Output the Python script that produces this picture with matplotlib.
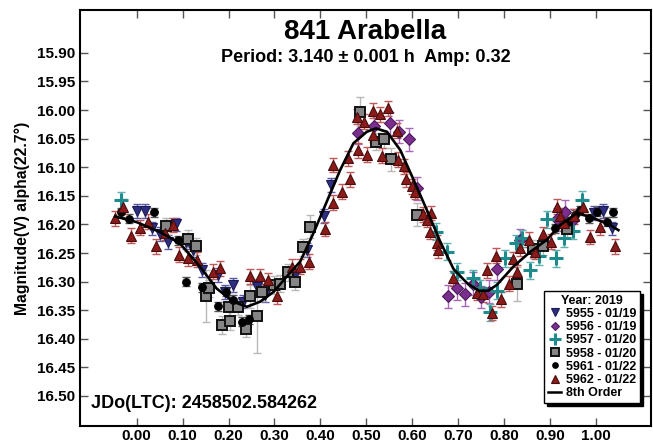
import numpy as np
import matplotlib
matplotlib.use("Agg")
import matplotlib.pyplot as plt
from matplotlib.lines import Line2D

plt.rcParams['font.family'] = ['Liberation Sans', 'DejaVu Sans']
plt.rcParams['font.weight'] = 'bold'

# 5955 - 01/19
ph_5955 = [0.001, 0.018, 0.033, 0.051, 0.069, 0.086, 0.107, 0.123, 0.142, 0.176, 0.192, 0.210,
           0.232, 0.263, 0.280, 0.345, 0.370, 0.407, 0.423, 0.995, 1.015, 1.035]
mag_5955 = [16.177, 16.176, 16.207, 16.217, 16.231, 16.200, 16.231, 16.245, 16.280, 16.288, 16.318, 16.306,
            16.335, 16.309, 16.323, 16.288, 16.245, 16.185, 16.131, 16.180, 16.176, 16.207]
err_5955 = 0.012

# 5956 - 01/19
ph_5956 = [0.483, 0.517, 0.552, 0.572, 0.592, 0.610, 0.679, 0.697, 0.715, 0.732, 0.749, 0.768,
           0.784, 0.835, 0.916, 0.933, 0.951]
mag_5956 = [16.040, 16.028, 16.023, 16.038, 16.051, 16.137, 16.326, 16.312, 16.322, 16.304, 16.327, 16.318,
            16.278, 16.228, 16.191, 16.178, 16.193]
err_5956 = 0.02

# 5957 - 01/20
ph_5957 = [-0.035, 0.652, 0.676, 0.697, 0.732, 0.748, 0.770, 0.784, 0.802, 0.826, 0.839, 0.857,
           0.877, 0.893, 0.914, 0.931, 0.951, 0.970]
mag_5957 = [16.158, 16.213, 16.248, 16.283, 16.294, 16.312, 16.354, 16.316, 16.259, 16.233, 16.224, 16.280,
            16.256, 16.191, 16.259, 16.224, 16.211, 16.157]
err_5957 = 0.015

# 5958 - 01/20
ph_5958 = [0.064, 0.112, 0.129, 0.151, 0.158, 0.185, 0.203, 0.200, 0.221, 0.238, 0.247, 0.263,
           0.272, 0.298, 0.312, 0.330, 0.345, 0.363, 0.378, 0.487, 0.521, 0.539, 0.553, 0.611,
           0.828, 0.864, 0.885, 0.937]
mag_5958 = [16.203, 16.225, 16.238, 16.325, 16.312, 16.376, 16.369, 16.344, 16.344, 16.382, 16.326, 16.360,
            16.319, 16.306, 16.304, 16.284, 16.300, 16.240, 16.204, 16.003, 16.055, 16.051, 16.086, 16.183,
            16.304, 16.243, 16.238, 16.208]
err_5958 = [0.015, 0.015, 0.015, 0.045, 0.015, 0.015, 0.015, 0.02, 0.015, 0.015, 0.02, 0.065,
            0.015, 0.015, 0.015, 0.015, 0.015, 0.015, 0.02, 0.025, 0.015, 0.015, 0.02, 0.02,
            0.03, 0.015, 0.015, 0.015]

# 5961 - 01/22
ph_5961 = [-0.035, -0.017, 0.038, 0.089, 0.107, 0.142, 0.176, 0.195, 0.210, 0.229, 0.245,
           0.911, 0.940, 0.954, 0.966, 0.984, 1.002, 1.024, 1.037]
mag_5961 = [16.179, 16.190, 16.179, 16.228, 16.300, 16.310, 16.343, 16.318, 16.332, 16.370, 16.366,
            16.207, 16.195, 16.183, 16.175, 16.189, 16.178, 16.195, 16.179]
err_5961 = 0.008

# 5962 - 01/22
ph_5962 = [-0.047, -0.029, -0.013, 0.007, 0.025, 0.042, 0.062, 0.080, 0.093, 0.112, 0.131, 0.166,
           0.181, 0.247, 0.269, 0.287, 0.305, 0.339, 0.356, 0.376, 0.410, 0.427, 0.428, 0.447,
           0.461, 0.465, 0.479, 0.483, 0.496, 0.501, 0.514, 0.515, 0.530, 0.534, 0.548, 0.566,
           0.570, 0.582, 0.587, 0.599, 0.606, 0.624, 0.633, 0.641, 0.639, 0.654, 0.657, 0.688,
           0.742, 0.755, 0.762, 0.773, 0.783, 0.793, 0.810, 0.819, 0.829, 0.835, 0.855, 0.868,
           0.885, 0.902, 0.916, 0.922, 0.931, 0.952, 0.972, 0.988, 1.009, 1.042]
mag_5962 = [16.189, 16.169, 16.220, 16.206, 16.195, 16.238, 16.215, 16.201, 16.253, 16.259, 16.262, 16.283,
            16.277, 16.291, 16.291, 16.298, 16.326, 16.274, 16.274, 16.265, 16.208, 16.096, 16.162, 16.143,
            16.084, 16.121, 16.012, 16.070, 16.020, 16.078, 16.001, 16.043, 16.007, 16.080, 15.997, 16.036,
            16.087, 16.098, 16.121, 16.133, 16.143, 16.182, 16.192, 16.180, 16.213, 16.232, 16.245, 16.294,
            16.320, 16.322, 16.280, 16.355, 16.255, 16.331, 16.304, 16.261, 16.284, 16.242, 16.227, 16.248,
            16.217, 16.230, 16.169, 16.185, 16.198, 16.186, 16.169, 16.222, 16.205, 16.238]
err_5962 = 0.013

# 8th order fit curve
fit_ph = [-0.047, 0.0, 0.05, 0.094, 0.138, 0.174, 0.21, 0.24, 0.269, 0.298, 0.327, 0.356, 0.385,
          0.414, 0.443, 0.472, 0.501, 0.521, 0.545, 0.574, 0.603, 0.632, 0.661, 0.69, 0.72, 0.745,
          0.765, 0.784, 0.82, 0.857, 0.893, 0.922, 0.959, 0.995, 1.031, 1.049]
fit_mag = [16.186, 16.196, 16.213, 16.233, 16.274, 16.312, 16.335, 16.344, 16.335, 16.318, 16.291, 16.265, 16.215,
           16.160, 16.105, 16.058, 16.038, 16.032, 16.038, 16.070, 16.122, 16.175, 16.230, 16.278, 16.303, 16.316,
           16.316, 16.306, 16.274, 16.248, 16.227, 16.201, 16.180, 16.189, 16.201, 16.210]

x_ticks = [0.0, 0.1, 0.2, 0.3, 0.4, 0.5, 0.6, 0.7, 0.8, 0.9, 1.0]
y_ticks = [15.90, 15.95, 16.00, 16.05, 16.10, 16.15, 16.20, 16.25, 16.30, 16.35, 16.40, 16.45, 16.50]

series = [
    ("5955 - 01/19", ph_5955, mag_5955, err_5955, 'v', '#2E2E80', '#1a1a55', '#5a5aa5', 7.5),
    ("5956 - 01/19", ph_5956, mag_5956, err_5956, 'D', '#7A2E8E', '#4d1a5c', '#a868b8', 6),
    ("5957 - 01/20", ph_5957, mag_5957, err_5957, '+', '#1E8C8C', '#1E8C8C', '#5fb0b0', 9.5),
    ("5958 - 01/20", ph_5958, mag_5958, err_5958, 's', '#858585', '#111111', '#b8b8b8', 7.5),
    ("5961 - 01/22", ph_5961, mag_5961, err_5961, 'o', '#000000', '#000000', '#555555', 5.5),
    ("5962 - 01/22", ph_5962, mag_5962, err_5962, '^', '#8B1A1A', '#4a0d0d', '#c05a5a', 7.5),
]

fig = plt.figure(figsize=(6.53, 4.45), dpi=100)
ax = fig.add_axes([80/653, 19/445, 571/653, 416/445])

handles = []
for lab, x, y, e, mk, fc, ec, errc, ms in series:
    ax.errorbar(x, y, yerr=e, fmt='none', ecolor=errc, elinewidth=1, capsize=3, capthick=1, zorder=2)
    mew = 2.2 if mk == '+' else (1.4 if mk == 's' else 0.8)
    ax.plot(x, y, ls='none', marker=mk, ms=ms, mfc=fc, mec=ec, mew=mew, zorder=3)
    handles.append(Line2D([], [], ls='none', marker=mk, ms=ms - 1.5, mfc=fc, mec=ec, mew=mew, label=lab))

ax.plot(fit_ph, fit_mag, color='black', lw=1.9, zorder=4)
handles.append(Line2D([], [], color='black', lw=1.8, label='8th Order'))

ax.set_xlim(-0.1235, 1.12)
ax.set_ylim(16.5525, 15.825)
ax.set_xticks(x_ticks)
ax.set_xticklabels(['%.2f' % v for v in x_ticks])
ax.set_yticks(y_ticks)
ax.set_yticklabels(['%.2f' % v for v in y_ticks])
ax.tick_params(axis='both', direction='in', length=6, width=1, color='#555555',
               labelsize=11, top=True, right=True)
ax.tick_params(axis='x', pad=2)
ax.tick_params(axis='y', pad=3.5)
for sp in ax.spines.values():
    sp.set_linewidth(1.5)

ax.set_ylabel('Magnitude(V) alpha(22.7°)', fontsize=11.3, fontweight='bold', labelpad=5)

fig.text(365.5/653, 1 - 32/445, '841 Arabella', ha='center', va='center', fontsize=20, fontweight='bold')
fig.text(365.5/653, 1 - 57/445, 'Period: 3.140 ± 0.001 h  Amp: 0.32', ha='center', va='center',
         fontsize=13, fontweight='bold')
ax.text(0.02, 0.055, 'JDo(LTC): 2458502.584262', transform=ax.transAxes, fontsize=13,
        fontweight='bold', va='center', ha='left')

leg = ax.legend(handles=handles, title='Year: 2019', loc='lower left', bbox_to_anchor=(0.8126, 0.055),
                borderaxespad=0, fontsize=9, title_fontsize=9, labelspacing=0.1, handlelength=1.1,
                handletextpad=0.35, borderpad=0.3, fancybox=False, edgecolor='black',
                shadow={'color': 'black', 'alpha': 1, 'ox': 2, 'oy': -2}, framealpha=1)
leg.get_frame().set_linewidth(1)
leg.get_title().set_fontweight('bold')

fig.savefig('out.png', dpi=100)
